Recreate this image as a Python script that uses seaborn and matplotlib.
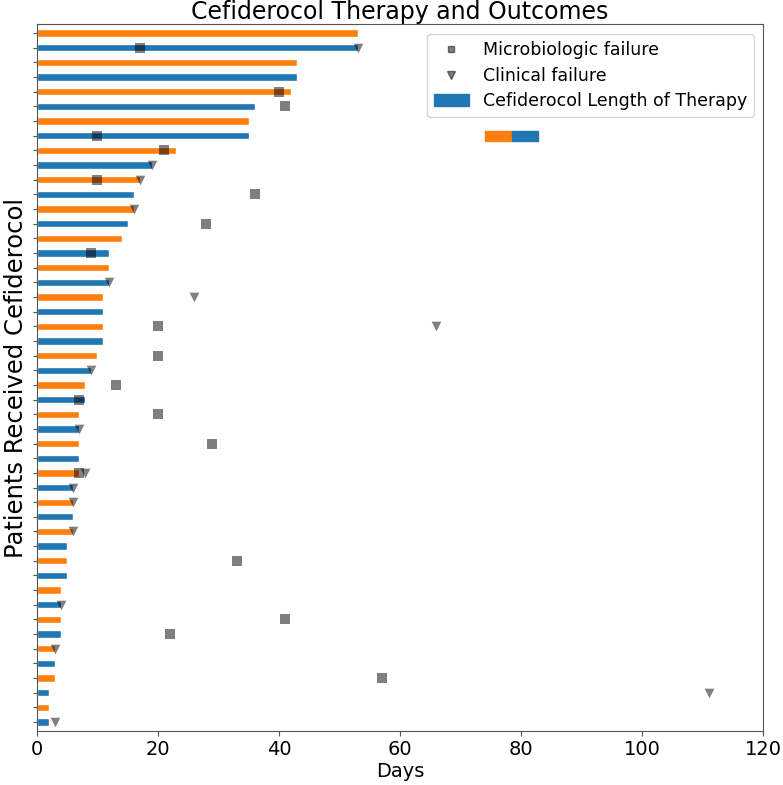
import numpy as np
import pandas as pd
import seaborn as sns
import matplotlib.pyplot as plt
from matplotlib.patches import Patch
from matplotlib.lines import Line2D
from matplotlib.legend_handler import HandlerTuple

# Length of therapy per patient (days), top row first
therapy_days = [53, 53, 43, 43, 42, 36, 35, 35, 23, 19, 17, 16, 16, 15, 14, 12,
                12, 12, 11, 11, 11, 11, 10, 9, 8, 8, 7, 7, 7, 7, 7, 6,
                6, 6, 6, 5, 5, 5, 4, 4, 4, 4, 3, 3, 3, 2, 2, 2]

# Day of microbiologic failure (patient row, day)
micro_rows = [1, 4, 5, 7, 8, 10, 11, 13, 15, 20, 22, 24, 25, 26, 28, 30, 36, 40, 41, 44]
micro_days = [17, 40, 41, 10, 21, 10, 36, 28, 9, 20, 20, 13, 7, 20, 29, 7, 33, 41, 22, 57]

# Day of clinical failure (patient row, day)
clin_rows = [1, 9, 10, 12, 17, 18, 20, 23, 27, 30, 31, 32, 34, 39, 42, 45, 47]
clin_days = [53, 19, 17, 16, 12, 26, 66, 9, 7, 8, 6, 6, 6, 4, 3, 111, 3]

blue = '#1f77b4'
orange = '#ff7f0e'

df = pd.DataFrame({
    'patient': np.arange(len(therapy_days)),
    'days': therapy_days,
})
df['group'] = np.where(df['patient'] % 2 == 0, 'a', 'b')

sns.set_style('ticks', rc={'text.color': 'black', 'axes.labelcolor': 'black',
                           'xtick.color': '#555555', 'ytick.color': '#555555'})
plt.rcParams['font.family'] = ['DejaVu Sans']

fig = plt.figure(figsize=(7.83, 7.85), dpi=100)
ax = fig.add_axes([0.047, 0.069, 0.928, 0.9])

sns.barplot(data=df, x='days', y='patient', hue='group', orient='h',
            palette={'a': orange, 'b': blue}, width=0.5, dodge=False,
            legend=False, saturation=1, ax=ax)

ax.scatter(micro_days, micro_rows, marker='s', s=42, color='k', alpha=0.5,
           linewidths=0, zorder=3)
ax.scatter(clin_days, clin_rows, marker='v', s=48, color='k', alpha=0.5,
           linewidths=0, zorder=3)

ax.set_xlim(0, 120)
ax.set_ylim(len(therapy_days) - 0.4, -0.6)
ax.set_yticks(np.arange(len(therapy_days)))
ax.set_yticklabels([])
ax.tick_params(axis='x', labelsize=14, pad=3, labelcolor='black')
ax.tick_params(axis='y', length=3)
for s in ax.spines.values():
    s.set_color('#555555')

ax.set_xlabel('Days', fontsize=14, labelpad=2)
ax.set_ylabel('Patients Received Cefiderocol', fontsize=17.5, labelpad=0)
ax.set_title('Cefiderocol Therapy and Outcomes', fontsize=17, pad=2)

handles = [
    Line2D([], [], marker='s', ls='', color='k', alpha=0.5, markersize=5),
    Line2D([], [], marker='v', ls='', color='k', alpha=0.5, markersize=6),
    Patch(color=blue),
]
labels = ['Microbiologic failure', 'Clinical failure', 'Cefiderocol Length of Therapy']
leg = ax.legend(handles, labels, loc='upper right', fontsize=12.5,
                labelspacing=0.45, borderaxespad=0.55)
ax.add_artist(leg)

ax.legend([(Patch(color=orange), Patch(color=blue))], [''], frameon=False,
          handler_map={tuple: HandlerTuple(ndivide=None, pad=0)},
          handlelength=3.8, loc='upper left', bbox_to_anchor=(0.6, 0.868))

fig.savefig('out.png', dpi=100)
